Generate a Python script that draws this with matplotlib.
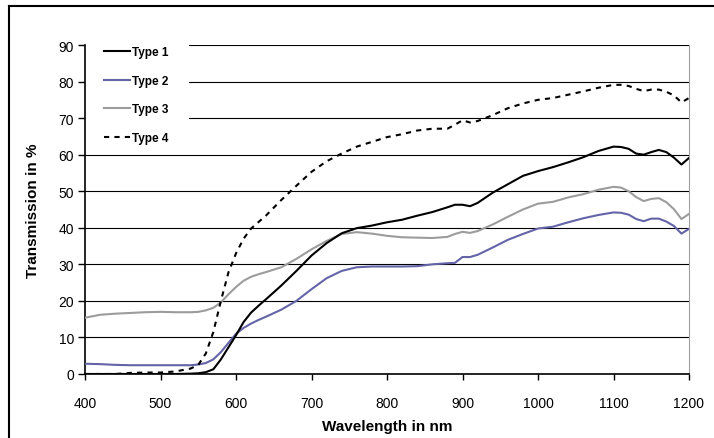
import numpy as np
import matplotlib

matplotlib.use("Agg")
import matplotlib.pyplot as plt
from matplotlib.lines import Line2D
from matplotlib.patches import Rectangle

plt.rcParams["font.family"] = ["Liberation Sans", "DejaVu Sans"]

wavelength = [
    400, 420, 440, 460, 480, 500, 520, 540, 550, 560, 570, 580, 590, 600,
    610, 620, 630, 640, 660, 680, 700, 720, 740, 760, 780, 800, 820, 840,
    860, 880, 890, 900, 910, 920, 940, 960, 980, 1000, 1020, 1040, 1060,
    1080, 1100, 1110, 1120, 1130, 1140, 1150, 1160, 1170, 1180, 1190, 1200,
]

type1 = [
    0, 0, 0, 0, 0, 0, 0, 0.1, 0.2, 0.5, 1.3, 4.0, 7.3, 10.6,
    14.2, 16.8, 18.7, 20.5, 24.2, 28.2, 32.4, 35.8, 38.5, 39.9, 40.6, 41.5, 42.2, 43.3,
    44.3, 45.6, 46.3, 46.3, 45.9, 46.8, 49.6, 51.9, 54.2, 55.5, 56.6, 57.9, 59.3,
    61.0, 62.2, 62.1, 61.6, 60.3, 60.0, 60.7, 61.3, 60.7, 59.2, 57.3, 59.1,
]

type2 = [
    2.8, 2.7, 2.5, 2.4, 2.4, 2.4, 2.4, 2.4, 2.6, 3.0, 4.0, 6.0, 8.5, 11.0,
    12.6, 13.8, 14.8, 15.7, 17.6, 20.0, 23.2, 26.2, 28.2, 29.2, 29.4, 29.4, 29.4, 29.5,
    30.0, 30.3, 30.4, 32.0, 32.0, 32.6, 34.6, 36.7, 38.3, 39.8, 40.3, 41.5, 42.6,
    43.5, 44.2, 44.1, 43.6, 42.4, 41.8, 42.5, 42.5, 41.7, 40.5, 38.4, 39.7,
]

type3 = [
    15.4, 16.2, 16.5, 16.7, 16.9, 17.0, 16.9, 16.9, 17.0, 17.4, 18.1, 19.6, 21.8, 23.8,
    25.5, 26.6, 27.3, 27.9, 29.2, 31.5, 34.1, 36.4, 38.3, 38.8, 38.4, 37.8, 37.4, 37.3,
    37.2, 37.5, 38.3, 38.9, 38.6, 39.1, 40.9, 43.0, 45.0, 46.6, 47.1, 48.3, 49.2,
    50.4, 51.2, 51.0, 50.0, 48.4, 47.3, 47.9, 48.1, 47.0, 45.1, 42.4, 43.8,
]

type4 = [
    0, 0, 0, 0.3, 0.4, 0.4, 0.7, 1.5, 2.5, 5.6, 11.5, 20.0, 27.8, 33.0,
    37.0, 39.8, 41.6, 43.4, 47.6, 51.5, 55.3, 58.2, 60.3, 62.2, 63.5, 64.8, 65.6, 66.6,
    67.1, 67.1, 68.2, 69.4, 68.8, 69.2, 70.8, 72.7, 74.0, 75.0, 75.5, 76.4, 77.3,
    78.3, 79.1, 79.1, 78.8, 78.0, 77.4, 77.8, 77.8, 77.2, 76.2, 74.3, 75.5,
]

labels = ["Type 1", "Type 2", "Type 3", "Type 4"]
x_ticks = [400, 500, 600, 700, 800, 900, 1000, 1100, 1200]
y_ticks = [0, 10, 20, 30, 40, 50, 60, 70, 80, 90]

W, H = 714, 439
fig = plt.figure(figsize=(W / 100, H / 100), dpi=100)
ax = fig.add_axes([85 / W, 1 - 375 / H, (689 - 85) / W, (375 - 46) / H])

x = np.array(wavelength)
ax.plot(x, type1, color="black", lw=1.5, label=labels[0], zorder=5)
ax.plot(x, type2, color="#6464a8", lw=1.5, label=labels[1], zorder=4)
ax.plot(x, type3, color="#9c9c9c", lw=1.5, label=labels[2], zorder=3)
ax.plot(x, type4, color="black", lw=1.5, ls=(0, (2.5, 2.5)), label=labels[3], zorder=6)

ax.set_xlim(400, 1200)
ax.set_ylim(0, 90)
ax.set_xticks(x_ticks)
ax.set_yticks(y_ticks)
ax.grid(axis="y", color="black", lw=0.8, zorder=1)
ax.set_axisbelow(True)

ax.spines["top"].set_visible(False)
ax.spines["right"].set_color("#a0a0a0")
ax.spines["left"].set_linewidth(1.2)
ax.spines["bottom"].set_linewidth(1.2)
ax.tick_params(axis="y", direction="out", length=5, width=1, pad=3, labelsize=10)
ax.tick_params(axis="x", direction="out", length=4, width=1, pad=12, labelsize=10)

ax.set_xlabel("Wavelength in nm", fontsize=11, fontweight="bold", labelpad=6)
ax.set_ylabel("Transmission in %", fontsize=11, fontweight="bold", labelpad=13)

# white area behind the legend
y0 = (375 - 150) / 329
ax.add_patch(Rectangle((0, y0), (189 - 85) / 604, 1 - y0 + 0.01,
                       transform=ax.transAxes, facecolor="white",
                       edgecolor="none", zorder=2, clip_on=False))

leg = ax.legend(loc="upper left", bbox_to_anchor=(98 / W, 1 - 41 / H),
                bbox_transform=fig.transFigure, frameon=False,
                prop={"size": 8.5, "weight": "bold"}, handlelength=2.2,
                handletextpad=0.2, labelspacing=1.42, borderaxespad=0,
                borderpad=0.5)
leg.set_zorder(10)

# outer frame (left and top edges visible)
fig.add_artist(Line2D([9 / W, 9 / W], [0, 1 - 7 / H], color="black", lw=1.5))
fig.add_artist(Line2D([9 / W, 1], [1 - 7 / H, 1 - 7 / H], color="black", lw=1.5))

fig.savefig("out.png", dpi=100)
